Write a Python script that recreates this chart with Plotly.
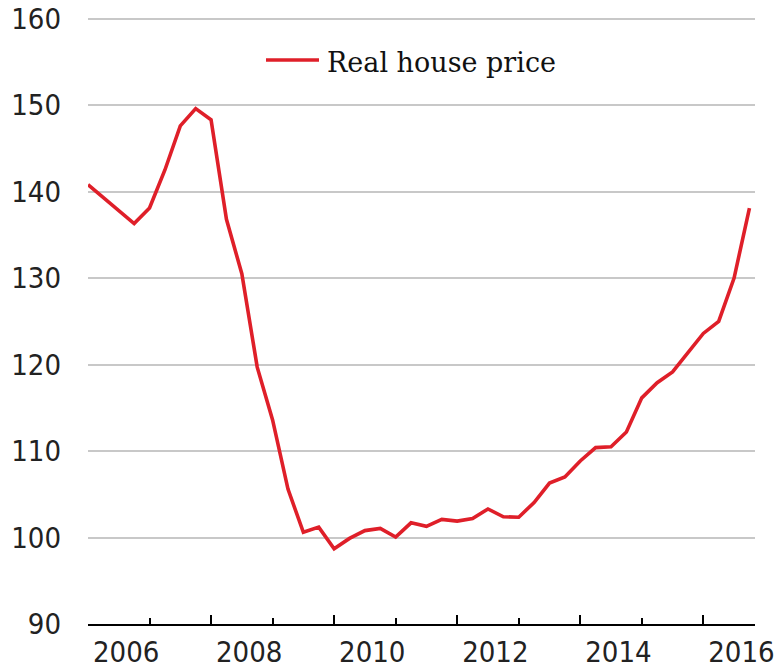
import plotly.graph_objects as go

years = list(range(2006, 2017))
quarters = [y + q / 4 for y in years for q in range(4)]
real_house_price = [
    140.8, 139.3, 137.7, 136.3,
    138.1, 142.5, 147.6, 149.6,
    148.3, 136.8, 130.5, 119.7,
    113.6, 105.6, 100.6, 101.2,
    98.7, 99.9, 100.8, 101.05,
    100.05, 101.7, 101.3, 102.1,
    101.9, 102.2, 103.3, 102.4,
    102.35, 104.05, 106.3, 107.0,
    108.85, 110.4, 110.5, 112.2,
    116.15, 117.9, 119.15, 121.45,
    123.6, 125.0, 130.0, 138.1,
]
label_years = [2006, 2008, 2010, 2012, 2014, 2016]
minor_years = [2007, 2009, 2011, 2013, 2015]
y_ticks = [90, 100, 110, 120, 130, 140, 150, 160]
series_name = "Real house price"

LINE_COLOR = "#DF1F29"
TICK_FONT = dict(family="DejaVu Sans Condensed, DejaVu Sans, sans-serif", size=29, color="#222222")
X_RANGE = [2006, 2016.84]

# page body adds an 8px offset; figure is sized to fit the window
W, H = 775, 661
ML, MR, MT, MB = 80, 28, 2, 45
PW, PH = W - ML - MR, H - MT - MB

fig = go.Figure()
fig.add_trace(go.Scatter(x=quarters, y=real_house_price, mode="lines", name=series_name,
                         line=dict(color=LINE_COLOR, width=3.6), showlegend=False))
fig.add_trace(go.Scatter(x=[X_RANGE[0]], y=[None], xaxis="x2", showlegend=False, hoverinfo="skip"))

fig.update_layout(
    width=W, height=H,
    margin=dict(l=ML, r=MR, t=MT, b=MB, autoexpand=False),
    plot_bgcolor="white", paper_bgcolor="white",
    xaxis=dict(range=X_RANGE, tickvals=label_years, ticks="inside", ticklen=9, tickwidth=2,
               tickcolor="black", showticklabels=False, showgrid=False, zeroline=False,
               showline=True, linecolor="black", linewidth=2, automargin=False,
               minor=dict(tickvals=minor_years, ticks="inside", ticklen=6, tickwidth=2,
                          tickcolor="black", showgrid=False)),
    xaxis2=dict(range=X_RANGE, overlaying="x", anchor="y", side="bottom",
                tickvals=[y + 0.62 for y in label_years], ticktext=[str(y) for y in label_years],
                ticks="", showgrid=False, zeroline=False, showline=False, automargin=False,
                tickfont=TICK_FONT, ticklabelstandoff=8, ticklabeloverflow="allow"),
    yaxis=dict(range=[90, 161], tickvals=y_ticks, ticks="", showgrid=True, gridcolor="#C8C8C8",
               gridwidth=2, zeroline=False, showline=False, tickfont=TICK_FONT, automargin=False,
               ticklabelstandoff=26, ticklabeloverflow="allow"),
)

fig.add_shape(type="line", xref="paper", yref="paper", x0=(258 - ML) / PW, x1=(311 - ML) / PW,
              y0=(PH + MT - 52) / PH, y1=(PH + MT - 52) / PH, line=dict(color=LINE_COLOR, width=3.6))
fig.add_annotation(text=series_name, xref="paper", yref="paper", x=(317 - ML) / PW, y=(PH + MT - 54) / PH,
                   xanchor="left", yanchor="middle", showarrow=False,
                   font=dict(family="DejaVu Serif, serif", size=27, color="#111111"))

fig.write_html("out.html")
